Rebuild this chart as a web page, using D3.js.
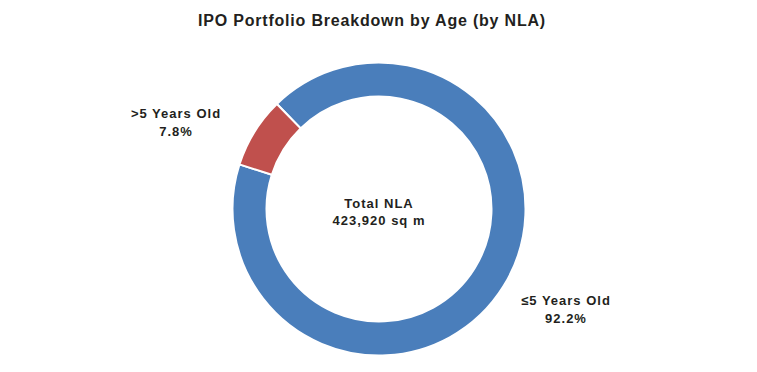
<!DOCTYPE html>
<html>
<head>
<meta charset="utf-8">
<script src="https://cdn.jsdelivr.net/npm/d3@7"></script>
<style>
  body { margin: 0; background: #fff; }
  text { font-family: "Liberation Sans", Arial, sans-serif; font-weight: bold; fill: #231f20; }
</style>
</head>
<body>
<div class="canvas"></div>
<script>
// data
const categories = ['≤5 Years Old', '>5 Years Old']
const shares = [92.2, 7.8]
const colors = ['#4a7ebb', '#c0504d']
const centerLines = ['Total NLA', '423,920 sq m']
const title = 'IPO Portfolio Breakdown by Age (by NLA)'

const width = 757
const height = 372

const svg = d3.select('.canvas')
  .append('svg')
  .attr('width', width)
  .attr('height', height)

svg.append('text')
  .attr('x', 372)
  .attr('y', 26)
  .attr('text-anchor', 'middle')
  .style('font-size', '16px')
  .style('letter-spacing', '0.8px')
  .text(title)

const cx = 379
const cy = 209
const outerR = 146.5
const innerR = 112.5

const graph = svg.append('g')
  .attr('transform', `translate(${cx}, ${cy})`)

// first slice begins up-left, like the original
const start = -44.2 * Math.PI / 180
const pie = d3.pie()
  .sort(null)
  .value(d => d.value)
  .startAngle(start)
  .endAngle(start + 2 * Math.PI)

const arc = d3.arc()
  .innerRadius(innerR)
  .outerRadius(outerR)

const data = categories.map((c, i) => ({ name: c, value: shares[i], color: colors[i] }))

graph.selectAll('path')
  .data(pie(data))
  .enter()
  .append('path')
  .attr('d', arc)
  .attr('fill', d => d.data.color)
  .attr('stroke', '#fff')
  .attr('stroke-width', 2)

// labels sit outside the ring
const labelOffsets = [[187, 96], [-203, -91]]

const labels = graph.selectAll('g.label')
  .data(pie(data))
  .enter()
  .append('g')
  .attr('class', 'label')
  .attr('transform', (d, i) => `translate(${labelOffsets[i][0]}, ${labelOffsets[i][1]})`)

labels.append('text')
  .attr('text-anchor', 'middle')
  .style('font-size', '13px')
  .style('letter-spacing', '1px')
  .text(d => d.data.name)

labels.append('text')
  .attr('text-anchor', 'middle')
  .attr('y', 18)
  .style('font-size', '13px')
  .style('letter-spacing', '1px')
  .text(d => `${d.data.value.toFixed(1)}%`)

graph.selectAll('text.center')
  .data(centerLines)
  .enter()
  .append('text')
  .attr('class', 'center')
  .attr('text-anchor', 'middle')
  .attr('y', (d, i) => -1 + i * 17)
  .style('font-size', '13px')
  .style('letter-spacing', '1px')
  .text(d => d)
</script>
</body>
</html>
